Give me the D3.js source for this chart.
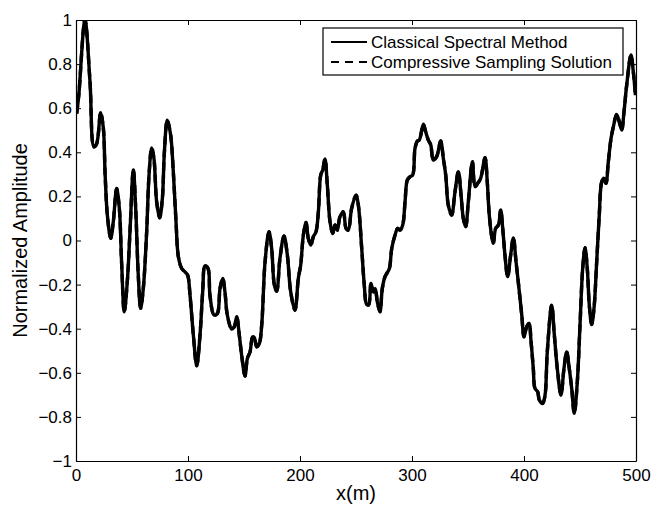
<!DOCTYPE html>
<html>
<head>
<meta charset="utf-8">
<script src="https://cdn.jsdelivr.net/npm/d3@7"></script>
<style>
  body { margin: 0; background: #ffffff; }
  svg { display: block; }
  text { font-family: "Liberation Sans", Arial, Helvetica, sans-serif; fill: #000; }
</style>
</head>
<body>
<div id="chart"></div>
<script>
// Positions along the profile (m).
var xValues = [0.6, 2.5, 8, 12.5, 16, 18.5, 22, 24.4, 26, 28, 31, 33.3, 36.3, 38.7, 40.8, 43.1, 45.8, 48.2,
  51.2, 53.3, 55.6, 57.7, 60.1, 63.1, 65.2, 67.6, 69.6, 72, 74.7, 77.1, 78.9, 81.5, 84.5, 86.9, 89.3,
  91.4, 94.4, 97.3, 99.7, 101.8, 104.8, 107.8, 110.7, 113.1, 115.2, 117.9, 119.6, 123.2, 126.2, 128.6,
  131, 133, 135.1, 139, 141.4, 143.5, 145.8, 147.9, 150.9, 153, 155.4, 157.7, 159.2, 161.3, 163.7,
  165.8, 168.8, 172.3, 174.7, 177.1, 179.2, 182.1, 185.7, 188.7, 191.7, 195.5, 198.5, 200.6, 203,
  205.4, 207.4, 209.6, 211.9, 214.3, 216.4, 218.5, 220.3, 222.3, 224.4, 226.8, 229.2, 231.3, 233.3,
  235.7, 238.7, 241.1, 243.1, 246.1, 250, 252.1, 255.1, 257.4, 259.5, 261.3, 263.4, 265.5, 267.2,
  269, 271.4, 273.5, 275.9, 277.4, 279.8, 281.9, 284.8, 287.2, 289.3, 291.7, 293.8, 295.8, 298.2,
  300.6, 302.7, 304.8, 306.5, 310.1, 312.2, 314.6, 316.7, 319, 322, 325.6, 328, 330.1, 332.4, 335.4,
  338.4, 341.4, 343.8, 345.8, 347.9, 350.3, 353.9, 356.3, 358.6, 361.3, 365.2, 367.2, 369, 371.2,
  372.6, 374.7, 377.1, 379.2, 381, 383, 385.4, 388.1, 390.5, 392.9, 395.5, 398, 400, 402.4, 404.5,
  406.3, 408.3, 409.8, 412.2, 413.7, 416.7, 418.8, 420.8, 424.7, 427.1, 429.7, 433, 435.7, 438.1,
  440.4, 442.6, 444.9, 447.6, 450, 452.4, 454.5, 456.5, 458.3, 460.4, 462.5, 464.9, 467.2, 469.4,
  471.4, 473.2, 475.3, 477.7, 479.8, 482.7, 485.1, 487.2, 489.3, 491.7, 495.5, 497.6, 499.5];

// Classical spectral method amplitude at each position.
var spectralValues = [0.576, 0.66, 1.0, 0.72, 0.425, 0.44, 0.58, 0.51, 0.30, 0.115, 0.01, 0.085, 0.236,
  0.145, -0.11, -0.323, -0.187, 0.04, 0.32, 0.146, -0.157, -0.308, -0.217, 0.04, 0.297, 0.42, 0.372,
  0.176, 0.103, 0.19, 0.40, 0.546, 0.478, 0.31, 0.085, -0.074, -0.127, -0.142, -0.157, -0.248, -0.43,
  -0.568, -0.43, -0.233, -0.115, -0.127, -0.248, -0.338, -0.331, -0.217, -0.172, -0.233, -0.338,
  -0.402, -0.391, -0.346, -0.429, -0.52, -0.615, -0.535, -0.505, -0.437, -0.44, -0.482, -0.467,
  -0.384, -0.097, 0.04, -0.036, -0.202, -0.23, -0.081, 0.021, -0.066, -0.233, -0.316, -0.172, -0.112,
  0.024, 0.082, 0.01, -0.021, 0.017, 0.04, 0.13, 0.297, 0.32, 0.37, 0.251, 0.085, 0.032, 0.07, 0.047,
  0.108, 0.13, 0.055, 0.047, 0.146, 0.206, 0.16, -0.036, -0.202, -0.29, -0.292, -0.195, -0.233,
  -0.218, -0.278, -0.323, -0.217, -0.164, -0.15, -0.127, -0.036, 0.024, 0.055, 0.047, 0.07, 0.176,
  0.274, 0.289, 0.297, 0.418, 0.451, 0.455, 0.527, 0.493, 0.455, 0.435, 0.365, 0.38, 0.451, 0.372,
  0.297, 0.16, 0.115, 0.221, 0.312, 0.206, 0.1, 0.062, 0.176, 0.357, 0.244, 0.259, 0.282, 0.375,
  0.266, 0.115, 0.017, -0.013, 0.055, 0.07, 0.138, 0.055, -0.066, -0.164, -0.066, 0.012, -0.097,
  -0.217, -0.338, -0.437, -0.391, -0.376, -0.459, -0.58, -0.671, -0.686, -0.724, -0.739, -0.701,
  -0.505, -0.293, -0.429, -0.58, -0.701, -0.58, -0.505, -0.58, -0.671, -0.784, -0.641, -0.384,
  -0.127, -0.033, -0.127, -0.293, -0.381, -0.308, -0.097, 0.115, 0.266, 0.282, 0.259, 0.357, 0.463,
  0.516, 0.572, 0.538, 0.501, 0.584, 0.705, 0.841, 0.765, 0.659];

// Compressive sampling solution: sits on top of the spectral curve in the picture.
var compressiveValues = spectralValues.slice();

var xTicks = [0, 100, 200, 300, 400, 500];
var yTicks = [-1, -0.8, -0.6, -0.4, -0.2, 0, 0.2, 0.4, 0.6, 0.8, 1];
var seriesNames = ["Classical Spectral Method", "Compressive Sampling Solution"];

// 1. Sizes.
var width = 652;
var height = 506;
var margin = {left: 76, right: 16, top: 20, bottom: 45};
var plotW = width - margin.left - margin.right;
var plotH = height - margin.top - margin.bottom;

// 2. Scales.
var xScale = d3.scaleLinear().domain([0, 500]).range([0, plotW]);
var yScale = d3.scaleLinear().domain([-1, 1]).range([plotH, 0]);

var svg = d3.select("#chart").append("svg")
  .attr("width", width)
  .attr("height", height);

var plot = svg.append("g")
  .attr("transform", "translate(" + margin.left + "," + margin.top + ")");

// 3. Lines.
var spectral = xValues.map(function (x, i) { return {x: x, y: spectralValues[i]}; });
var compressive = xValues.map(function (x, i) { return {x: x, y: compressiveValues[i]}; });

var line = d3.line()
  .x(function (d) { return xScale(d.x); })
  .y(function (d) { return yScale(d.y); })
  .curve(d3.curveCatmullRom.alpha(0.5));

plot.append("defs").append("clipPath").attr("id", "clip")
  .append("rect").attr("width", plotW).attr("height", plotH);

plot.append("path")
  .datum(spectral)
  .attr("clip-path", "url(#clip)")
  .attr("fill", "none")
  .attr("stroke", "#000")
  .attr("stroke-width", 3.4)
  .attr("stroke-linejoin", "round")
  .attr("d", line);

plot.append("path")
  .datum(compressive)
  .attr("clip-path", "url(#clip)")
  .attr("fill", "none")
  .attr("stroke", "#000")
  .attr("stroke-width", 3.4)
  .attr("stroke-dasharray", "8,5")
  .attr("d", line);

// 4. Axes (ticks point inward, box on all sides).
var fmt = function (d) { return String(d).replace("-", "\u2212"); };

var xAxisB = plot.append("g")
  .attr("transform", "translate(0," + plotH + ")")
  .call(d3.axisBottom(xScale).tickValues(xTicks).tickSizeInner(-5).tickSizeOuter(0).tickPadding(8).tickFormat(fmt));
var xAxisT = plot.append("g")
  .call(d3.axisTop(xScale).tickValues(xTicks).tickSizeInner(-5).tickSizeOuter(0).tickFormat(""));
var yAxisL = plot.append("g")
  .call(d3.axisLeft(yScale).tickValues(yTicks).tickSizeInner(-5).tickSizeOuter(0).tickPadding(4).tickFormat(fmt));
var yAxisR = plot.append("g")
  .attr("transform", "translate(" + plotW + ",0)")
  .call(d3.axisRight(yScale).tickValues(yTicks).tickSizeInner(-5).tickSizeOuter(0).tickFormat(""));

[xAxisB, xAxisT, yAxisL, yAxisR].forEach(function (ax) {
  ax.selectAll("path.domain").attr("stroke", "#000").attr("stroke-width", 1.2);
  ax.selectAll(".tick line").attr("stroke", "#000").attr("stroke-width", 1);
  ax.selectAll("text").style("font-size", "17px").attr("fill", "#000");
});

// 5. Axis labels.
svg.append("text")
  .attr("x", margin.left + plotW / 2)
  .attr("y", 500)
  .attr("text-anchor", "middle")
  .style("font-size", "20px")
  .text("x(m)");

svg.append("text")
  .attr("transform", "translate(27," + (margin.top + plotH / 2) + ")rotate(-90)")
  .attr("text-anchor", "middle")
  .style("font-size", "20px")
  .text("Normalized Amplitude");

// 6. Legend.
var legend = svg.append("g").attr("transform", "translate(323,28)");
legend.append("rect")
  .attr("width", 300).attr("height", 47)
  .attr("fill", "#fff").attr("stroke", "#000").attr("stroke-width", 1.2);

seriesNames.forEach(function (name, i) {
  var yRow = 14 + i * 20;
  legend.append("line")
    .attr("x1", 8).attr("x2", 44)
    .attr("y1", yRow).attr("y2", yRow)
    .attr("stroke", "#000").attr("stroke-width", 2.2)
    .attr("stroke-dasharray", i === 0 ? null : "8,6");
  legend.append("text")
    .attr("x", 48).attr("y", yRow + 6)
    .style("font-size", "17px")
    .text(name);
});
</script>
</body>
</html>
